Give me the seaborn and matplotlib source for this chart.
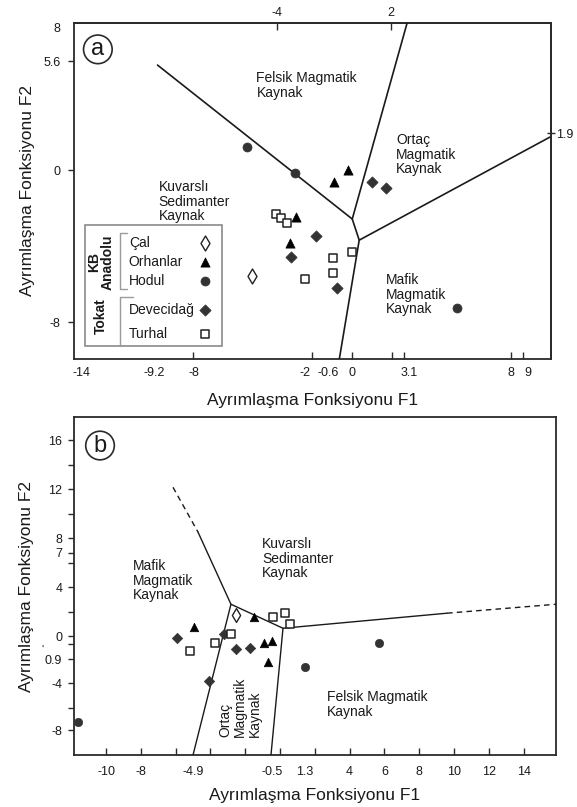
import numpy as np
import pandas as pd
import matplotlib
matplotlib.use('Agg')
import matplotlib.pyplot as plt
from matplotlib.patches import Rectangle
import seaborn as sns

sns.set_style('ticks')
plt.rcParams['font.family'] = ['Liberation Sans', 'DejaVu Sans']

# ---------------- data: panel a ----------------
groups = ['Çal', 'Orhanlar', 'Hodul', 'Devecidağ', 'Turhal']

a_cal_x = [-5.03]
a_cal_y = [-5.52]
a_orhanlar_x = [-0.20, -0.90, -2.81, -3.12]
a_orhanlar_y = [0.00, -0.63, -2.45, -3.80]
a_hodul_x = [-5.28, -2.86, 5.28]
a_hodul_y = [1.20, -0.16, -7.19]
a_devecidag_x = [1.01, 1.71, -1.81, -3.07, -0.75]
a_devecidag_y = [-0.63, -0.94, -3.44, -4.53, -6.15]
a_turhal_x = [-3.82, -3.57, -3.27, 0.00, -0.95, -0.95, -2.36]
a_turhal_y = [-2.29, -2.50, -2.76, -4.27, -4.58, -5.36, -5.68]

# boundary lines panel a
a_line1_x = [-9.80, 0.00, 2.76]
a_line1_y = [5.47, -2.55, 7.66]
a_line2_x = [0.00, 0.35, 9.95]
a_line2_y = [-2.55, -3.65, 1.72]
a_line3_x = [0.35, -0.65]
a_line3_y = [-3.65, -9.84]

# ticks panel a
a_xtick_pos = [-8, -2, 0, 2, 2.6, 8, 8.6]
a_xlabel_pos = [-13.6, -9.95, -7.99, -2.4, -1.2, 0.01, 2.86, 7.99, 8.84]
a_xlabels = ['-14', '-9.2', '-8', '-2', '-0.6', '0', '3.1', '8', '9']
a_ytick_pos = [5.68, 0, -7.92]
a_ytick_labels = ['5.6', '0', '-8']
a_ytop_pos = [7.4]
a_ytop_labels = ['8']
a_top_pos = [-3.8, 1.95]
a_top_labels = ['-4', '2']
a_right_pos = [1.93]
a_right_labels = ['1.9']

# ---------------- data: panel b ----------------
b_cal_x = [-2.53]
b_cal_y = [1.71]
b_orhanlar_x = [-1.49, -4.94, -0.92, -0.46, -0.69]
b_orhanlar_y = [1.55, 0.73, -0.57, -0.41, -2.12]
b_hodul_x = [-11.61, 1.44, 5.69]
b_hodul_y = [-7.02, -2.53, -0.57]
b_devecidag_x = [-5.92, -3.22, -2.53, -1.75, -4.08]
b_devecidag_y = [-0.16, 0.16, -1.06, -0.98, -3.67]
b_turhal_x = [-0.40, 0.29, 0.57, -2.82, -3.74, -5.17]
b_turhal_y = [1.55, 1.88, 0.98, 0.16, -0.57, -1.22]

b_dash1_x = [-6.15, -4.71]
b_dash1_y = [12.16, 8.49]
b_solid1_x = [-4.71, -2.82, 0.17, 9.60]
b_solid1_y = [8.49, 2.61, 0.65, 1.88]
b_dash2_x = [9.60, 15.86]
b_dash2_y = [1.88, 2.61]
b_solid2_x = [-2.82, -5.00]
b_solid2_y = [2.61, -9.70]
b_solid3_x = [0.17, -0.52]
b_solid3_y = [0.65, -9.70]

b_xtick_pos = [-10, -8, -6, -4, -2, 0, 2, 4, 6, 8, 10, 12, 14]
b_xtick_labels = ['-10', '-8', '', '', '', '', '', '4', '6', '8', '10', '12', '14']
b_xextra_pos = [-5.0, -0.46, 1.44]
b_xextra_labels = ['-4.9', '-0.5', '1.3']
b_ytick_pos = [16, 14, 12, 10, 8, 6.8, 6, 4, 2, 0, -0.65, -1.9, -3.84, -5.9, -7.67]
b_ytick_labels = ['16', '', '12', '', '8', '7', '', '4', '', '0', '', '0.9', '-4', '', '-8']

styles = {
    'Çal': dict(marker='d', color='white', edgecolor='#222222', linewidth=1.0),
    'Orhanlar': dict(marker='^', color='black', edgecolor='black', linewidth=0.5),
    'Hodul': dict(marker='o', color='#333333', edgecolor='#333333', linewidth=0.5),
    'Devecidağ': dict(marker='D', color='#333333', edgecolor='#333333', linewidth=0.5),
    'Turhal': dict(marker='s', color='white', edgecolor='#222222', linewidth=1.1),
}
sizes = {'Çal': 58, 'Orhanlar': 44, 'Hodul': 42, 'Devecidağ': 33, 'Turhal': 38}

a_df = pd.concat([
    pd.DataFrame({'x': a_cal_x, 'y': a_cal_y, 'g': 'Çal'}),
    pd.DataFrame({'x': a_orhanlar_x, 'y': a_orhanlar_y, 'g': 'Orhanlar'}),
    pd.DataFrame({'x': a_hodul_x, 'y': a_hodul_y, 'g': 'Hodul'}),
    pd.DataFrame({'x': a_devecidag_x, 'y': a_devecidag_y, 'g': 'Devecidağ'}),
    pd.DataFrame({'x': a_turhal_x, 'y': a_turhal_y, 'g': 'Turhal'}),
])
b_df = pd.concat([
    pd.DataFrame({'x': b_cal_x, 'y': b_cal_y, 'g': 'Çal'}),
    pd.DataFrame({'x': b_orhanlar_x, 'y': b_orhanlar_y, 'g': 'Orhanlar'}),
    pd.DataFrame({'x': b_hodul_x, 'y': b_hodul_y, 'g': 'Hodul'}),
    pd.DataFrame({'x': b_devecidag_x, 'y': b_devecidag_y, 'g': 'Devecidağ'}),
    pd.DataFrame({'x': b_turhal_x, 'y': b_turhal_y, 'g': 'Turhal'}),
])

fig = plt.figure(figsize=(5.77, 8.07), dpi=100)
W, H = 577, 807
ax_a = fig.add_axes([74 / W, 1 - 359 / H, 477 / W, 336 / H])
ax_b = fig.add_axes([74 / W, 1 - 755 / H, 482 / W, 338 / H])

frame_c = '#2a2a2a'
txt_c = '#1a1a1a'
for ax in (ax_a, ax_b):
    for sp in ax.spines.values():
        sp.set_visible(True)
        sp.set_color(frame_c)
        sp.set_linewidth(1.3)


def draw_points(ax, df, scale=1.0):
    for g in groups:
        sub = df[df['g'] == g]
        st = styles[g]
        sns.scatterplot(data=sub, x='x', y='y', ax=ax, marker=st['marker'],
                        color=st['color'], edgecolor=st['edgecolor'],
                        linewidth=st['linewidth'], s=sizes[g] * scale,
                        legend=False, zorder=5)

# ---------------- panel a ----------------
ax = ax_a
lc = '#1a1a1a'
for xs, ys in [(a_line1_x, a_line1_y), (a_line2_x, a_line2_y), (a_line3_x, a_line3_y)]:
    ax.plot(xs, ys, color=lc, lw=1.2, zorder=3)
draw_points(ax, a_df)
ax.set_xlim(-14, 10)
ax.set_ylim(-9.84, 7.66)
ax.set_xticks(a_xtick_pos, labels=[''] * len(a_xtick_pos))
ax.set_xticks(a_xlabel_pos, labels=a_xlabels, minor=True)
ax.tick_params(axis='x', which='major', direction='in', length=5, width=1, color=frame_c)
ax.tick_params(axis='x', which='minor', length=0, pad=5.5, labelsize=9, labelcolor=txt_c)
ax.set_yticks(a_ytick_pos, labels=a_ytick_labels)
ax.set_yticks(a_ytop_pos, labels=a_ytop_labels, minor=True)
ax.tick_params(axis='y', which='major', direction='out', length=4.5, width=1, pad=5,
               labelsize=9, labelcolor=txt_c, color=frame_c)
ax.tick_params(axis='y', which='minor', length=0, pad=9.5, labelsize=9, labelcolor=txt_c)
sec_top = ax.secondary_xaxis('top')
sec_top.set_xticks(a_top_pos, labels=a_top_labels)
sec_top.tick_params(direction='in', length=5, width=1, pad=3, labelsize=9,
                    labelcolor=txt_c, color=frame_c)
sec_top.spines['top'].set_color(frame_c)
sec_top.spines['top'].set_linewidth(1.3)
sec_r = ax.secondary_yaxis('right')
sec_r.set_yticks(a_right_pos, labels=a_right_labels)
sec_r.tick_params(direction='inout', length=6, width=1, pad=1, labelsize=9,
                  labelcolor=txt_c, color=frame_c)
sec_r.spines['right'].set_color(frame_c)
sec_r.spines['right'].set_linewidth(1.3)
ax.set_xlabel('Ayrımlaşma Fonksiyonu F1', fontsize=12.5, labelpad=10, color=txt_c)
ax.set_ylabel('Ayrımlaşma Fonksiyonu F2', fontsize=12.5, labelpad=6, color=txt_c)

fs = 10
ax.text(-4.82, 5.15, 'Felsik Magmatik\nKaynak', fontsize=fs, va='top', ha='left',
        linespacing=1.05, color=txt_c)
ax.text(2.2, 1.93, 'Ortaç\nMagmatik\nKaynak', fontsize=fs, va='top', ha='left',
        linespacing=1.05, color=txt_c)
ax.text(-9.75, -0.52, 'Kuvarslı\nSedimanter\nKaynak', fontsize=fs, va='top', ha='left',
        linespacing=1.05, color=txt_c)
ax.text(1.7, -5.36, 'Mafik\nMagmatik\nKaynak', fontsize=fs, va='top', ha='left',
        linespacing=1.05, color=txt_c)
ax.text(0.050, 0.929, 'a', transform=ax.transAxes, fontsize=17, ha='center',
        va='center_baseline', color=txt_c,
        bbox=dict(boxstyle='circle,pad=0.14', fc='white', ec=frame_c, lw=1.2), zorder=6)

# legend (panel a)
T = ax.transAxes
ax.add_patch(Rectangle((0.023, 0.039), 0.287, 0.360, transform=T, fill=True,
                       fc='white', ec='#8a8a8a', lw=1.2, zorder=6))
br_c = '#9a9a9a'
ax.plot([0.112, 0.097, 0.097, 0.112], [0.374, 0.374, 0.208, 0.208], transform=T,
        color=br_c, lw=1.0, zorder=7)
ax.plot([0.124, 0.097, 0.097], [0.184, 0.184, 0.039], transform=T,
        color=br_c, lw=1.0, zorder=7)
ax.text(0.056, 0.289, 'KB\nAnadolu', transform=T, rotation=90, ha='center', va='center',
        fontsize=10, fontweight='bold', linespacing=1.0, color=txt_c, zorder=7)
ax.text(0.056, 0.128, 'Tokat', transform=T, rotation=90, ha='center', va='center',
        fontsize=10, fontweight='bold', color=txt_c, zorder=7)
leg_y = [0.345, 0.289, 0.232, 0.146, 0.074]
for g, yy in zip(groups, leg_y):
    ax.text(0.115, yy, g, transform=T, ha='left', va='center', fontsize=10,
            color=txt_c, zorder=7)
    st = styles[g]
    ax.scatter([0.275], [yy], transform=T, marker=st['marker'], s=sizes[g],
               c=st['color'], edgecolors=st['edgecolor'], linewidths=st['linewidth'],
               zorder=8, clip_on=False)

# ---------------- panel b ----------------
ax = ax_b
dash = (0, (4, 3))
ax.plot(b_dash1_x, b_dash1_y, color=lc, lw=1.0, ls=dash, zorder=3)
ax.plot(b_dash2_x, b_dash2_y, color=lc, lw=1.0, ls=dash, zorder=3)
for xs, ys in [(b_solid1_x, b_solid1_y), (b_solid2_x, b_solid2_y), (b_solid3_x, b_solid3_y)]:
    ax.plot(xs, ys, color=lc, lw=1.0, zorder=3)
draw_points(ax, b_df, scale=0.85)
ax.set_xlim(-11.84, 15.86)
ax.set_ylim(-9.7, 17.9)
ax.set_xticks(b_xtick_pos, labels=b_xtick_labels)
ax.set_xticks(b_xextra_pos, labels=b_xextra_labels, minor=True)
ax.tick_params(axis='x', which='major', direction='in', length=5, width=1, pad=8,
               labelsize=9, labelcolor=txt_c, color=frame_c)
ax.tick_params(axis='x', which='minor', length=0, pad=8, labelsize=9, labelcolor=txt_c)
ax.set_yticks(b_ytick_pos, labels=b_ytick_labels)
ax.tick_params(axis='y', which='major', direction='out', length=4.5, width=1, pad=4,
               labelsize=9, labelcolor=txt_c, color=frame_c)
ax.set_xlabel('Ayrımlaşma Fonksiyonu F1', fontsize=12.5, labelpad=7, color=txt_c)
ax.set_ylabel('Ayrımlaşma Fonksiyonu F2', fontsize=12.5, labelpad=8, color=txt_c)

ax.text(-1.03, 8.08, 'Kuvarslı\nSedimanter\nKaynak', fontsize=fs, va='top', ha='left',
        linespacing=1.05, color=txt_c)
ax.text(-8.45, 6.29, 'Mafik\nMagmatik\nKaynak', fontsize=fs, va='top', ha='left',
        linespacing=1.05, color=txt_c)
ax.text(2.70, -4.41, 'Felsik Magmatik\nKaynak', fontsize=fs, va='top', ha='left',
        linespacing=1.05, color=txt_c)
ax.text(-2.30, -5.80, 'Ortaç\nMagmatik\nKaynak', fontsize=fs, va='center', ha='center',
        rotation=90, multialignment='left', linespacing=1.05, color=txt_c)
ax.text(0.054, 0.923, 'b', transform=ax.transAxes, fontsize=17, ha='center',
        va='center_baseline', color=txt_c,
        bbox=dict(boxstyle='circle,pad=0.14', fc='white', ec=frame_c, lw=1.2), zorder=6)

fig.text(42 / W, 1 - 650 / H, "'", fontsize=8, color=txt_c, ha='center', va='center')

fig.savefig('out.png', dpi=100)
